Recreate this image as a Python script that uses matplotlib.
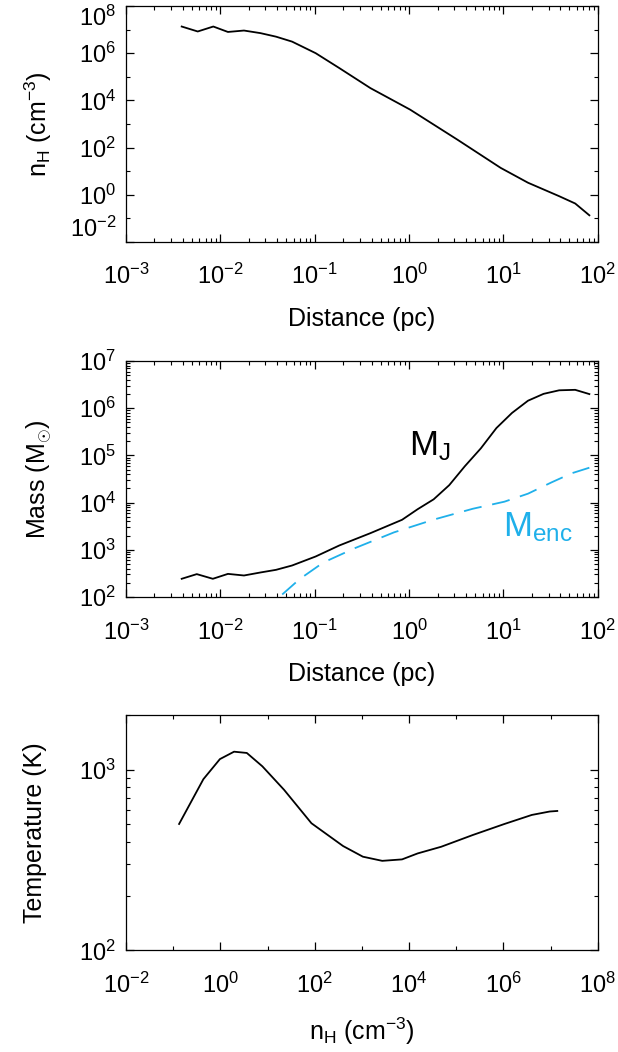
import numpy as np
import matplotlib

matplotlib.use("Agg")
import matplotlib.pyplot as plt
from matplotlib.ticker import LogLocator, FixedLocator, NullFormatter, FuncFormatter

plt.rcParams["font.family"] = ["Liberation Sans", "DejaVu Sans"]
plt.rcParams["mathtext.fontset"] = "custom"
plt.rcParams["mathtext.rm"] = "Liberation Sans"
plt.rcParams["mathtext.it"] = "Liberation Sans:italic"
plt.rcParams["mathtext.bf"] = "Liberation Sans:bold"
plt.rcParams["axes.unicode_minus"] = False

# --- panel 1: density profile (log10 values)
dist_log = [-2.41, -2.24, -2.075, -1.92, -1.75, -1.575, -1.41, -1.24, -0.99,
            -0.74, -0.41, 0.01, 0.51, 0.97, 1.26, 1.59, 1.76, 1.91]
nh_log = [7.13, 6.92, 7.13, 6.90, 6.96, 6.85, 6.70, 6.49, 6.00,
          5.37, 4.52, 3.61, 2.34, 1.14, 0.51, -0.06, -0.37, -0.87]

# --- panel 2: Jeans mass and enclosed mass
mj_dist_log = [-2.41, -2.25, -2.08, -1.92, -1.75, -1.575, -1.41, -1.24, -0.99,
               -0.74, -0.41, -0.075, 0.09, 0.26, 0.425, 0.59, 0.76, 0.925,
               1.09, 1.26, 1.425, 1.59, 1.76, 1.91]
mj_log = [2.386, 2.485, 2.386, 2.49, 2.456, 2.52, 2.576, 2.668, 2.859,
          3.092, 3.353, 3.636, 3.86, 4.07, 4.37, 4.77, 5.15, 5.58,
          5.90, 6.16, 6.305, 6.38, 6.39, 6.30]
menc_dist_log = [-1.55, -1.375, -1.16, -0.91, -0.575, -0.16, 0.26, 0.675,
                 1.01, 1.26, 1.51, 1.72, 1.91]
menc_log = [1.6, 2.0, 2.38, 2.73, 3.035, 3.37, 3.64, 3.87,
            4.02, 4.19, 4.43, 4.62, 4.74]

# --- panel 3: temperature vs density
t_nh_log = [-0.875, -0.36, -0.01, 0.29, 0.56, 0.89, 1.35, 1.93, 2.6, 3.02,
            3.43, 3.85, 4.18, 4.68, 5.35, 6.02, 6.6, 6.98, 7.14]
temp_log = [2.70, 2.948, 3.059, 3.10, 3.093, 3.019, 2.889, 2.704, 2.578, 2.519,
            2.496, 2.504, 2.537, 2.574, 2.639, 2.70, 2.75, 2.769, 2.772]

MENC_COLOR = "#1fb0ea"
FS = 18
TFS = 17

fig = plt.figure(figsize=(6.18, 10.52), dpi=100)
left, width = 0.2039, 0.7635
ax1 = fig.add_axes([left, 0.7700, width, 0.2243])
ax2 = fig.add_axes([left, 0.4325, width, 0.2243])
ax3 = fig.add_axes([left, 0.0965, width, 0.2235])

pow10 = FuncFormatter(lambda v, p: r"$\mathregular{10^{%d}}$" % round(np.log10(v)))


def style(ax):
    ax.set_xscale("log")
    ax.set_yscale("log")
    ax.tick_params(which="both", direction="in", top=True, right=True, labelsize=TFS)
    ax.tick_params(which="major", length=6, width=0.9)
    ax.tick_params(which="minor", length=3, width=0.8)
    ax.tick_params(axis="x", pad=16)
    ax.tick_params(axis="y", pad=7)
    for s in ax.spines.values():
        s.set_linewidth(0.9)


def decade_ticks(axis):
    axis.set_major_locator(LogLocator(base=10, numticks=12))
    axis.set_minor_locator(LogLocator(base=10, subs=np.arange(2, 10), numticks=24))
    axis.set_major_formatter(pow10)
    axis.set_minor_formatter(NullFormatter())


def every_other(axis, lo, hi):
    axis.set_major_locator(FixedLocator([10.0 ** k for k in range(lo, hi + 1, 2)]))
    axis.set_minor_locator(FixedLocator([10.0 ** k for k in range(lo + 1, hi, 2)]))
    axis.set_major_formatter(pow10)
    axis.set_minor_formatter(NullFormatter())


def pull_in_ends(ax, top=True):
    # keep the end labels of the y axis inside the box, as the original does
    ticks = ax.yaxis.get_major_ticks()
    ticks[0].label1.set_va("bottom")
    if top:
        ticks[-1].label1.set_va("top")


# panel 1
style(ax1)
ax1.plot(10 ** np.array(dist_log), 10 ** np.array(nh_log), color="black", lw=1.3)
ax1.set_xlim(1e-3, 1e2)
ax1.set_ylim(1e-2, 1e8)
every_other(ax1.yaxis, -2, 8)
decade_ticks(ax1.xaxis)
ax1.set_xlabel("Distance (pc)", fontsize=FS)
ax1.set_ylabel(r"n$_\mathregular{H}$ (cm$^{-3}$)", fontsize=FS)
ax1.xaxis.set_label_coords(0.5, -0.275)
ax1.yaxis.set_label_coords(-0.152, 0.5)
pull_in_ends(ax1)

# panel 2
style(ax2)
ax2.plot(10 ** np.array(mj_dist_log), 10 ** np.array(mj_log), color="black", lw=1.3)
ax2.plot(10 ** np.array(menc_dist_log), 10 ** np.array(menc_log), color=MENC_COLOR,
         lw=1.3, linestyle=(0, (10, 6)))
ax2.set_xlim(1e-3, 1e2)
ax2.set_ylim(1e2, 1e7)
decade_ticks(ax2.yaxis)
decade_ticks(ax2.xaxis)
ax2.set_xlabel("Distance (pc)", fontsize=FS)
ax2.set_ylabel(r"Mass (M$_{\odot}$)", fontsize=FS)
ax2.xaxis.set_label_coords(0.5, -0.275)
ax2.yaxis.set_label_coords(-0.152, 0.5)
ax2.text(0.60, 0.60, r"M$_\mathregular{J}$", transform=ax2.transAxes, fontsize=25,
         color="black", ha="left", va="baseline")
ax2.text(0.798, 0.258, r"M$_\mathregular{enc}$", transform=ax2.transAxes, fontsize=25,
         color=MENC_COLOR, ha="left", va="baseline")
pull_in_ends(ax2)

# panel 3
style(ax3)
ax3.plot(10 ** np.array(t_nh_log), 10 ** np.array(temp_log), color="black", lw=1.3)
ax3.set_xlim(1e-2, 1e8)
ax3.set_ylim(1e2, 2e3)
every_other(ax3.xaxis, -2, 8)
decade_ticks(ax3.yaxis)
ax3.set_xlabel(r"n$_\mathregular{H}$ (cm$^{-3}$)", fontsize=FS)
ax3.set_ylabel("Temperature (K)", fontsize=FS)
ax3.xaxis.set_label_coords(0.5, -0.275)
ax3.yaxis.set_label_coords(-0.168, 0.5)
pull_in_ends(ax3, top=False)

fig.savefig("out.png", dpi=100)
